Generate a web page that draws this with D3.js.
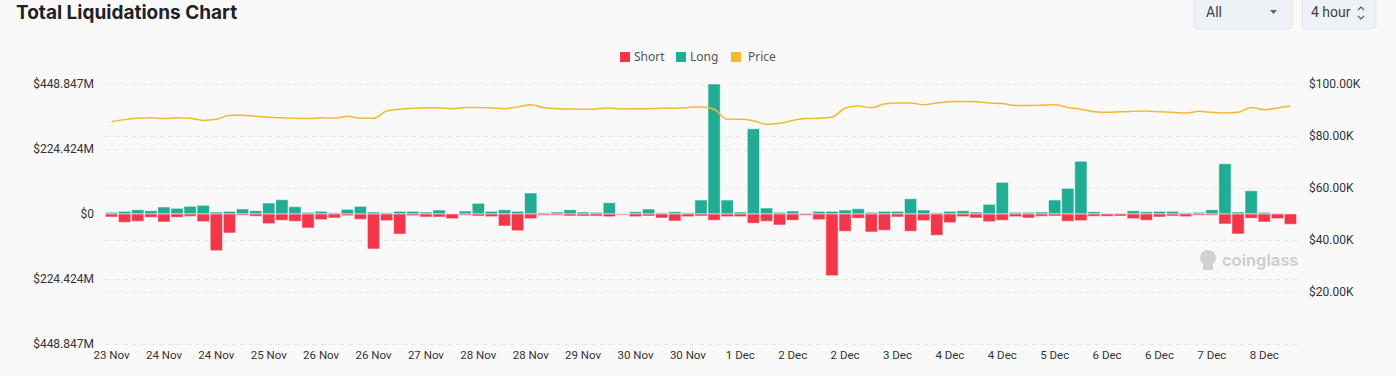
<!DOCTYPE html>
<html>
<head>
<meta charset="utf-8">
<script src="https://cdn.jsdelivr.net/npm/d3@7"></script>
<style>
  body { margin: 0; background: #f9f9f9; font-family: Inter, Roboto, sans-serif; }
  svg { display: block; }
</style>
</head>
<body>
<svg width="1396" height="376"></svg>
<script>
const width = 1396, height = 376;
const marginTop = 84, marginBottom = 32, marginLeft = 105, marginRight = 99;

// 4 hour buckets, 23 Nov 08:00 -> 8 Dec 08:00
const start = new Date(2024, 10, 23, 8);
const times = d3.range(91).map(i => d3.timeHour.offset(start, 4 * i));

// long liquidations, $M
const longVals = [5.9, 9.3, 14.8, 11.4, 24.2, 19.7, 26.6, 30.0, 6.9, 9.3,
  17.3, 11.4, 38.0, 49.4, 25.2, 5.9, 9.3, 4.5, 16.2, 26.6,
  6.9, 4.5, 9.3, 9.3, 6.9, 13.8, 1.0, 10.4, 36.9, 9.3,
  14.8, 9.3, 72.5, 4.5, 6.9, 14.8, 6.9, 5.9, 39.0, 1.0,
  7.9, 17.3, 4.5, 7.9, 4.5, 48.3, 448.847, 48.3, 6.9, 294.5,
  20.7, 5.9, 10.4, 3.5, 9.3, 9.3, 13.8, 18.3, 5.9, 9.3,
  9.3, 52.8, 13.8, 4.5, 9.3, 11.4, 6.9, 33.5, 109.4, 5.9,
  5.9, 6.9, 48.3, 88.7, 182.0, 7.9, 2.4, 2.4, 11.4, 7.9,
  9.3, 9.3, 4.5, 5.9, 14.8, 173.7, 6.9, 80.4, 5.9, 2.4, 1.0];

// short liquidations, $M
const shortVals = [10.4, 28.7, 25.2, 11.4, 27.6, 11.4, 7.9, 26.6, 126.7, 65.6,
  4.5, 7.9, 33.5, 21.8, 25.2, 48.3, 19.7, 13.8, 5.9, 18.3,
  120.8, 23.1, 69.1, 5.9, 10.4, 10.4, 16.2, 4.5, 6.9, 9.3,
  41.4, 57.7, 16.2, 4.5, 4.5, 6.9, 6.9, 6.9, 9.3, 3.5,
  9.3, 6.9, 13.8, 24.2, 9.3, 6.9, 21.8, 9.3, 9.3, 32.1,
  25.2, 38.0, 21.8, 4.5, 19.7, 213.0, 59.7, 14.8, 62.1, 56.3,
  10.4, 59.7, 23.1, 73.5, 30.0, 9.3, 13.8, 26.6, 21.8, 9.3,
  13.8, 7.9, 6.9, 25.2, 23.1, 7.9, 7.9, 6.9, 16.2, 21.8,
  10.4, 6.9, 9.3, 4.5, 4.5, 34.5, 69.1, 14.8, 27.6, 16.2, 35.6];

// price, $K
const priceVals = [85.5, 86.3, 86.8, 87.0, 86.7, 87.0, 86.8, 86.0, 86.4, 88.0,
  88.0, 87.6, 87.2, 87.0, 86.8, 86.7, 87.0, 86.9, 87.6, 86.8,
  86.8, 89.6, 90.3, 90.7, 90.9, 90.9, 90.5, 91.0, 91.0, 90.8,
  90.5, 91.2, 92.0, 90.9, 90.5, 90.4, 90.3, 90.4, 90.8, 90.4,
  90.5, 90.5, 90.7, 90.7, 91.0, 91.2, 90.3, 86.4, 86.4, 85.9,
  84.5, 84.9, 86.0, 86.7, 86.8, 87.2, 90.7, 91.5, 90.9, 92.3,
  92.7, 92.7, 92.0, 92.7, 93.2, 93.3, 93.2, 92.7, 92.5, 91.7,
  91.7, 91.8, 92.0, 91.0, 90.3, 89.3, 89.1, 89.3, 89.5, 89.6,
  89.3, 89.1, 88.8, 89.5, 89.1, 88.8, 89.1, 91.0, 90.1, 90.8, 91.5];

const leftTicks = [-448.847, -224.424, 0, 224.424, 448.847];
const rightTicks = [20, 40, 60, 80, 100];

const legendItems = [
  { color: "#f4364a", label: "Short" },
  { color: "#21ad94", label: "Long" },
  { color: "#f3ba2f", label: "Price" }
];

const svg = d3.select("svg");

// title + controls
svg.append("text")
  .attr("x", 16).attr("y", 19)
  .style("font-family", "Inter, sans-serif")
  .style("font-weight", 700)
  .style("font-size", "19px")
  .style("fill", "#1e2226")
  .text("Total Liquidations Chart");

const controls = [
  { x: 1194, w: 98, label: "All", icon: "caret" },
  { x: 1302, w: 74, label: "4 hour", icon: "updown" }
];
controls.forEach(c => {
  svg.append("rect")
    .attr("x", c.x).attr("y", -6).attr("width", c.w).attr("height", 35)
    .attr("rx", 4)
    .attr("fill", "#eef1f5").attr("stroke", "#e1e5ea");
  svg.append("text")
    .attr("x", c.x + (c.icon === "caret" ? 12 : 9)).attr("y", 17)
    .style("font-family", "Roboto, sans-serif")
    .style("font-size", "14px").style("fill", "#3c4249")
    .text(c.label);
  if (c.icon === "caret") {
    svg.append("path")
      .attr("d", `M${c.x + 76},${10} l7,0 l-3.5,4 z`)
      .attr("fill", "#5a6068");
  } else {
    svg.append("path")
      .attr("d", `M${c.x + 56},${10} l3,-3 l3,3 M${c.x + 56},${16} l3,3 l3,-3`)
      .attr("fill", "none").attr("stroke", "#5a6068").attr("stroke-width", 1.2);
  }
});

// legend
const legend = svg.append("g").attr("transform", "translate(620, 52)");
const legendX = [0, 56, 111];
legendItems.forEach((item, i) => {
  legend.append("rect")
    .attr("x", legendX[i]).attr("y", 0)
    .attr("width", 10).attr("height", 10)
    .attr("fill", item.color);
  legend.append("text")
    .attr("x", legendX[i] + (i === 2 ? 17 : 14)).attr("y", 9)
    .style("font-family", "'Noto Sans', sans-serif")
    .style("font-size", "12px").style("fill", "#555")
    .text(item.label);
});

// scales
const xScale = d3.scaleBand()
  .domain(times)
  .range([marginLeft, width - marginRight])
  .paddingInner(0.06).paddingOuter(0.03);

const yScale = d3.scaleLinear()
  .domain([-448.847, 448.847])
  .range([height - marginBottom, marginTop]);

const yPrice = d3.scaleLinear()
  .domain([0, 100])
  .range([height - marginBottom, marginTop]);

// grid lines
const grid = svg.append("g");
leftTicks.forEach(t => {
  grid.append("line")
    .attr("x1", marginLeft).attr("x2", width - marginRight)
    .attr("y1", Math.round(yScale(t)) + 0.5).attr("y2", Math.round(yScale(t)) + 0.5)
    .attr("stroke", "#e8e8e8").attr("stroke-dasharray", "5,4");
});
rightTicks.forEach(t => {
  grid.append("line")
    .attr("x1", marginLeft).attr("x2", width - marginRight)
    .attr("y1", Math.round(yPrice(t)) + 0.5).attr("y2", Math.round(yPrice(t)) + 0.5)
    .attr("stroke", "#e8e8e8").attr("stroke-dasharray", "5,4");
});

// axes
const axisFont = "Roboto, 'Liberation Sans', sans-serif";
const yAxis = svg.append("g")
  .attr("transform", `translate(${marginLeft - 8}, 0)`)
  .call(d3.axisLeft(yScale).tickValues(leftTicks).tickSize(0)
    .tickFormat(v => v === 0 ? "$0" : `$${Math.abs(v).toFixed(3)}M`));
yAxis.select(".domain").remove();

const yAxisRight = svg.append("g")
  .attr("transform", `translate(${width - marginRight + 9}, 0)`)
  .call(d3.axisRight(yPrice).tickValues(rightTicks).tickSize(0)
    .tickFormat(v => `$${v.toFixed(2)}K`));
yAxisRight.select(".domain").remove();

const xAxis = svg.append("g")
  .attr("transform", `translate(0, ${height - marginBottom + 2})`)
  .call(d3.axisBottom(xScale)
    .tickValues(times.filter((d, i) => i % 4 === 0))
    .tickSize(0)
    .tickFormat(d3.timeFormat("%-d %b")));
xAxis.select(".domain").remove();

svg.selectAll(".tick text")
  .style("font-family", axisFont)
  .style("fill", "#333");
yAxis.selectAll(".tick text").style("font-size", "12px");
yAxisRight.selectAll(".tick text").style("font-size", "12px");
xAxis.selectAll(".tick text").style("font-size", "11.5px").attr("dy", "0.9em");

// watermark
const wm = svg.append("g").attr("transform", "translate(1198, 248)");
wm.append("circle").attr("cx", 10).attr("cy", 10).attr("r", 8).attr("fill", "#d0d0d0");
wm.append("rect").attr("x", 5).attr("y", 15).attr("width", 10).attr("height", 7).attr("fill", "#d0d0d0");
wm.append("text")
  .attr("x", 24).attr("y", 18)
  .style("font-family", "Inter, sans-serif")
  .style("font-weight", 600)
  .style("font-size", "16.5px")
  .style("fill", "#cccccc")
  .text("coinglass");

// bars
const bars = svg.append("g");
bars.selectAll(".long")
  .data(times)
  .join("rect")
  .attr("class", "long")
  .attr("x", d => xScale(d))
  .attr("width", xScale.bandwidth())
  .attr("y", (d, i) => yScale(longVals[i]))
  .attr("height", (d, i) => yScale(0) - yScale(longVals[i]))
  .attr("fill", "#21ad94")
  .attr("stroke", "rgba(255,255,255,0.55)")
  .attr("stroke-width", 1);

bars.selectAll(".short")
  .data(times)
  .join("rect")
  .attr("class", "short")
  .attr("x", d => xScale(d))
  .attr("width", xScale.bandwidth())
  .attr("y", yScale(0))
  .attr("height", (d, i) => yScale(-shortVals[i]) - yScale(0))
  .attr("fill", "#f4364a")
  .attr("stroke", "rgba(255,255,255,0.55)")
  .attr("stroke-width", 1);

// price line
const lineGen = d3.line()
  .x((d, i) => xScale(times[i]) + xScale.bandwidth() / 2)
  .y(d => yPrice(d))
  .curve(d3.curveMonotoneX);

svg.append("path")
  .datum(priceVals)
  .attr("fill", "none")
  .attr("stroke", "#f3ba2f")
  .attr("stroke-width", 1.5)
  .attr("d", lineGen);
</script>
</body>
</html>
